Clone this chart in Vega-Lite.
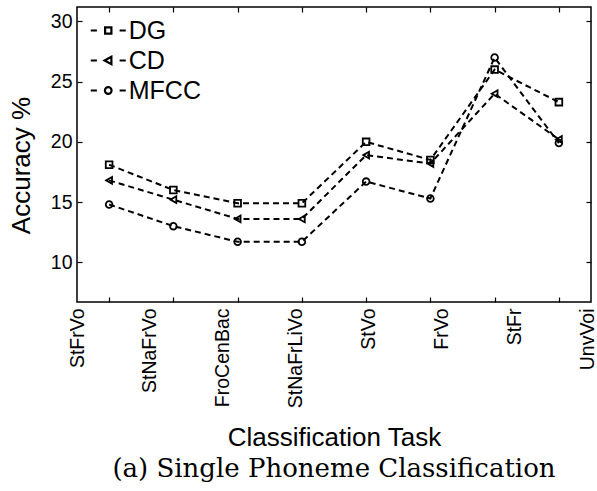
{
  "$schema": "https://vega.github.io/schema/vega-lite/v6.json",
  "width": 514,
  "height": 295,
  "autosize": {"type": "none"},
  "padding": {"left": 77, "top": 7, "right": 6, "bottom": 189},
  "background": "white",
  "config": {
    "view": {"stroke": "black", "strokeWidth": 1.5},
    "font": "Liberation Sans",
    "axis": {
      "domain": false, "grid": false,
      "tickColor": "black", "tickWidth": 1.2, "tickSize": -5,
      "labelColor": "black", "labelFont": "Liberation Sans", "labelFontSize": 19.5,
      "titleFont": "Liberation Sans", "titleFontWeight": "normal", "titleColor": "black"
    }
  },
  "title": {
    "text": "(a) Single Phoneme Classification",
    "orient": "bottom", "anchor": "middle",
    "font": "DejaVu Serif", "fontSize": 26, "fontWeight": "normal", "color": "black", "offset": 5
  },
  "data": {
    "values": [
      {"series": "DG", "task": "StFrVo", "pos": 1, "acc": 18.1},
      {"series": "DG", "task": "StNaFrVo", "pos": 2, "acc": 16.0},
      {"series": "DG", "task": "FroCenBac", "pos": 3, "acc": 14.9},
      {"series": "DG", "task": "StNaFrLiVo", "pos": 4, "acc": 14.9},
      {"series": "DG", "task": "StVo", "pos": 5, "acc": 20.0},
      {"series": "DG", "task": "FrVo", "pos": 6, "acc": 18.5},
      {"series": "DG", "task": "StFr", "pos": 7, "acc": 26.0},
      {"series": "DG", "task": "UnvVoi", "pos": 8, "acc": 23.3},
      {"series": "CD", "task": "StFrVo", "pos": 1, "acc": 16.8},
      {"series": "CD", "task": "StNaFrVo", "pos": 2, "acc": 15.2},
      {"series": "CD", "task": "FroCenBac", "pos": 3, "acc": 13.6},
      {"series": "CD", "task": "StNaFrLiVo", "pos": 4, "acc": 13.6},
      {"series": "CD", "task": "StVo", "pos": 5, "acc": 18.9},
      {"series": "CD", "task": "FrVo", "pos": 6, "acc": 18.2},
      {"series": "CD", "task": "StFr", "pos": 7, "acc": 24.0},
      {"series": "CD", "task": "UnvVoi", "pos": 8, "acc": 20.2},
      {"series": "MFCC", "task": "StFrVo", "pos": 1, "acc": 14.8},
      {"series": "MFCC", "task": "StNaFrVo", "pos": 2, "acc": 13.0},
      {"series": "MFCC", "task": "FroCenBac", "pos": 3, "acc": 11.7},
      {"series": "MFCC", "task": "StNaFrLiVo", "pos": 4, "acc": 11.7},
      {"series": "MFCC", "task": "StVo", "pos": 5, "acc": 16.7},
      {"series": "MFCC", "task": "FrVo", "pos": 6, "acc": 15.3},
      {"series": "MFCC", "task": "StFr", "pos": 7, "acc": 27.0},
      {"series": "MFCC", "task": "UnvVoi", "pos": 8, "acc": 19.9}
    ]
  },
  "layer": [
    {
      "mark": {"type": "line", "color": "black", "strokeWidth": 2, "strokeDash": [6, 4]},
      "encoding": {
        "x": {
          "field": "pos", "type": "quantitative",
          "scale": {"domain": [0.5, 8.5], "nice": false, "zero": false},
          "axis": {
            "orient": "bottom",
            "values": [0.5, 1, 1.635, 2, 2.77, 3, 3.905, 4, 5, 5.04, 6, 6.175, 7, 7.31, 8, 8.445],
            "labelExpr": "datum.value % 1 == 0 ? '' : ['StFrVo','StNaFrVo','FroCenBac','StNaFrLiVo','StVo','FrVo','StFr','UnvVoi'][round((datum.value - 0.5) / 1.135)]",
            "tickOpacity": {"condition": {"test": "datum.value % 1 == 0", "value": 1}, "value": 0},
            "labelAngle": -90, "labelOverlap": false, "labelFlush": false, "labelPadding": 11,
            "title": "Classification Task", "titleFontSize": 26, "titlePadding": 17
          }
        },
        "y": {
          "field": "acc", "type": "quantitative",
          "scale": {"domain": [6.7, 31.2], "nice": false, "zero": false},
          "axis": {
            "orient": "left", "values": [10, 15, 20, 25, 30],
            "labelPadding": 10, "title": "Accuracy %", "titleFontSize": 26, "titlePadding": 16, "titleY": 158
          }
        },
        "detail": {"field": "series"}
      }
    },
    {
      "mark": {"type": "point", "filled": false, "color": "black", "strokeWidth": 1.8, "size": 45, "opacity": 1},
      "encoding": {
        "x": {"field": "pos", "type": "quantitative", "axis": {"orient": "top", "labels": false, "values": [1, 2, 3, 4, 5, 6, 7, 8], "title": null}},
        "y": {"field": "acc", "type": "quantitative", "axis": {"orient": "right", "labels": false, "values": [10, 15, 20, 25, 30], "title": null}},
        "shape": {
          "field": "series", "type": "nominal",
          "scale": {"domain": ["DG", "CD", "MFCC"], "range": ["square", "triangle-left", "circle"]},
          "legend": null
        }
      }
    },
    {
      "transform": [{"filter": "datum.acc < 0"}],
      "mark": {"type": "point", "filled": false, "color": "black", "strokeWidth": 2, "opacity": 1},
      "encoding": {
        "shape": {
          "field": "series", "type": "nominal", "title": null,
          "scale": {
            "domain": ["DG", "CD", "MFCC"],
            "range": [
              "M-2,0H-1.3M1.3,0H2M-0.36,-0.36H0.36V0.36H-0.36Z",
              "M-2,0H-1.3M1.3,0H2M0.36,-0.42L-0.42,0L0.36,0.42Z",
              "M-2,0H-1.3M1.3,0H2M-0.38,0A0.38,0.38,0,1,0,0.38,0A0.38,0.38,0,1,0,-0.38,0Z"
            ]
          },
          "legend": {
            "orient": "none", "legendX": 18.75, "legendY": 11, "padding": 0,
            "symbolSize": 306, "symbolStrokeWidth": 2.2, "symbolStrokeColor": "black", "symbolOpacity": 1,
            "labelFontSize": 25, "labelFont": "Liberation Sans", "labelColor": "black",
            "labelOffset": 8, "rowPadding": 4
          }
        }
      }
    }
  ],
  "resolve": {"scale": {"shape": "independent"}, "axis": {"x": "independent", "y": "independent"}}
}
